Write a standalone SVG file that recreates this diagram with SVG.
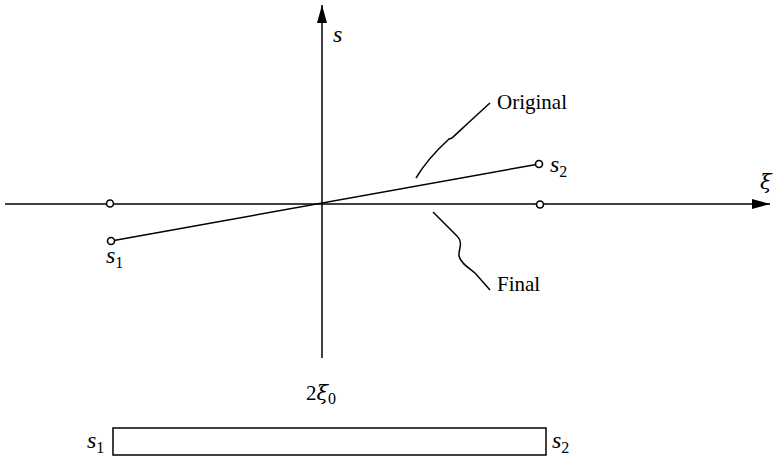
<svg xmlns="http://www.w3.org/2000/svg" width="773" height="459" viewBox="0 0 773 459">
<style>
.ln{stroke:#000;stroke-width:1.5;fill:none}
.pt{stroke:#000;stroke-width:1.6;fill:#fff}
.t{font-family:"Liberation Serif",serif;font-size:21px;fill:#000}
.v{font-family:"Liberation Serif",serif;font-size:24px;font-style:italic;fill:#000}
.g{font-family:"DejaVu Serif",serif;font-size:21px;font-style:italic;fill:#000}
.sub{font-family:"Liberation Serif",serif;font-style:normal;font-size:16px}
</style>
<defs>
<marker id="ah" markerWidth="20" markerHeight="12" refX="18" refY="5" orient="auto" markerUnits="userSpaceOnUse">
<path d="M0,0 L18,5 L0,10 Z" fill="#000"/>
</marker>
</defs>
<rect width="773" height="459" fill="#fff"/>
<g id="connectors">
<line class="ln" x1="5" y1="204" x2="770" y2="204" marker-end="url(#ah)"/>
<line class="ln" x1="322" y1="358" x2="322" y2="5" marker-end="url(#ah)"/>
<line class="ln" x1="111" y1="241" x2="539" y2="164"/>
<path class="ln" d="M416,178 C425,163 438,149 449,139 L452,138 C465,126 480,112 490,103"/>
<path class="ln" d="M433,212 L457,236 C464,243 458,250 459,256 C461,264 469,268 475,273 L490,290"/>
</g>
<g id="p-left-axis"><circle class="pt" cx="110" cy="203.5" r="3.5"/></g>
<g id="p-right-axis"><circle class="pt" cx="540" cy="204.5" r="3.5"/></g>
<g id="p-s1"><circle class="pt" cx="111" cy="241" r="3.5"/>
<text class="v" x="106" y="263">s<tspan class="sub" dy="5">1</tspan></text></g>
<g id="p-s2"><circle class="pt" cx="539" cy="164" r="3.5"/>
<text class="v" x="550" y="172">s<tspan class="sub" dy="5">2</tspan></text></g>
<g id="axis-labels">
<text class="v" x="333" y="42">s</text>
<text class="g" x="760" y="189">ξ</text>
</g>
<g id="lbl-original"><text class="t" x="497" y="109">Original</text></g>
<g id="lbl-final"><text class="t" x="497" y="291">Final</text></g>
<g id="lbl-2xi0"><text class="t" x="306" y="400" font-size="22">2<tspan class="g" font-size="21">ξ</tspan><tspan class="sub" dy="4">0</tspan></text></g>
<g id="bar">
<rect class="ln" x="113" y="428" width="433" height="27" stroke-width="1.3"/>
<text class="v" x="87" y="448">s<tspan class="sub" dy="5">1</tspan></text>
<text class="v" x="552" y="448">s<tspan class="sub" dy="5">2</tspan></text>
</g>
</svg>
